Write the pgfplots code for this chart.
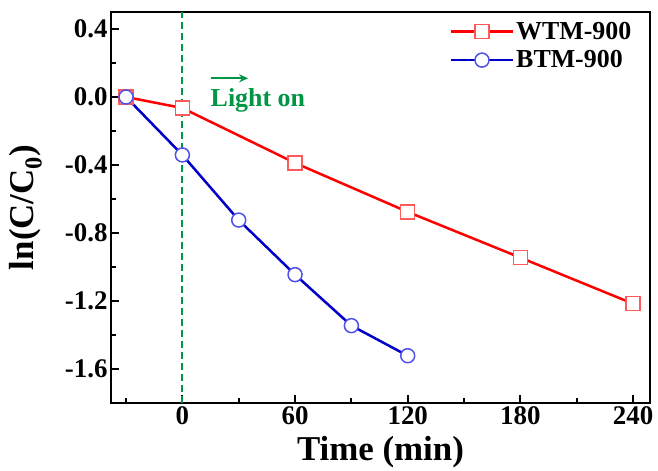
\documentclass[border=0pt]{standalone}
\usepackage{fontspec}
\setmainfont{Liberation Serif}
\usepackage{pgfplots}
\pgfplotsset{compat=1.18}
\usetikzlibrary{arrows.meta,calc}
\definecolor{wtm}{RGB}{255,0,0}
\definecolor{wtmmark}{RGB}{255,90,90}
\definecolor{btm}{RGB}{0,0,200}
\definecolor{btmmark}{RGB}{80,80,235}
\definecolor{lighton}{RGB}{0,150,70}

\begin{document}
\begin{tikzpicture}
\begin{axis}[
    scale only axis,
    width=539bp, height=391bp,
    xmin=-38, xmax=249,
    ymin=-1.8, ymax=0.5,
    xtick={0,60,120,180,240},
    minor xtick={-30,30,90,150,210},
    ytick={-1.6,-1.2,-0.8,-0.4,0,0.4},
    minor ytick={-1.4,-1.0,-0.6,-0.2,0.2},
    xtick pos=bottom, ytick pos=left,
    tick align=inside,
    major tick length=8bp, minor tick length=5bp,
    every tick/.style={black, line width=2bp},
    axis line style={line width=2.5bp},
    /pgf/number format/assume math mode=true,
    ticklabel style={font=\fontsize{27}{27}\selectfont\bfseries},
    yticklabel style={/pgf/number format/.cd, fixed, fixed zerofill, precision=1},
    xlabel={Time (min)},
    ylabel={ln(C/C\textsubscript{0})},
    label style={font=\fontsize{35}{35}\selectfont\bfseries},
    xlabel style={at={(axis description cs:0.5,-0.125)}, anchor=center},
    ylabel style={at={(axis description cs:-0.158,0.5)}, anchor=center},
    legend style={draw=none, fill=none, at={(0.975,0.985)}, anchor=north east,
        font=\fontsize{26}{26}\selectfont\bfseries, row sep=6bp},
    legend cell align=left,
    legend image code/.code={\draw[mark repeat=2,mark phase=2] plot coordinates {(0bp,0bp)(31bp,0bp)(62bp,0bp)};},
]
\addplot[lighton, line width=2bp, dash pattern=on 7bp off 4bp, forget plot]
    coordinates {(0,-1.8) (0,0.5)};
\addplot[wtm, line width=2.5bp, mark=square*, mark size=7bp,
    mark options={fill=white, draw=wtmmark, line width=1.5bp, solid}]
    coordinates {(-30,0) (0,-0.065) (60,-0.388) (120,-0.676) (180,-0.945) (240,-1.216)};
\addplot[btm, line width=2.5bp, mark=*, mark size=7bp,
    mark options={fill=white, draw=btmmark, line width=1.5bp, solid}]
    coordinates {(-30,0) (0,-0.341) (30,-0.724) (60,-1.045) (90,-1.345) (120,-1.522)};
\legend{WTM-900, BTM-900}
\draw[-{Stealth[length=9bp,width=8bp]}, lighton, line width=2bp]
    (axis cs:15,0.11) -- (axis cs:35,0.11);
\node[anchor=west, inner sep=0pt, text=lighton,
    font=\fontsize{26}{26}\selectfont\bfseries] at (axis cs:15,-0.02) {Light on};
\end{axis}
\path ($(current axis.south west)+(-111bp,-66bp)$)
      ($(current axis.north east)+(8bp,12bp)$);
\end{tikzpicture}
\end{document}
